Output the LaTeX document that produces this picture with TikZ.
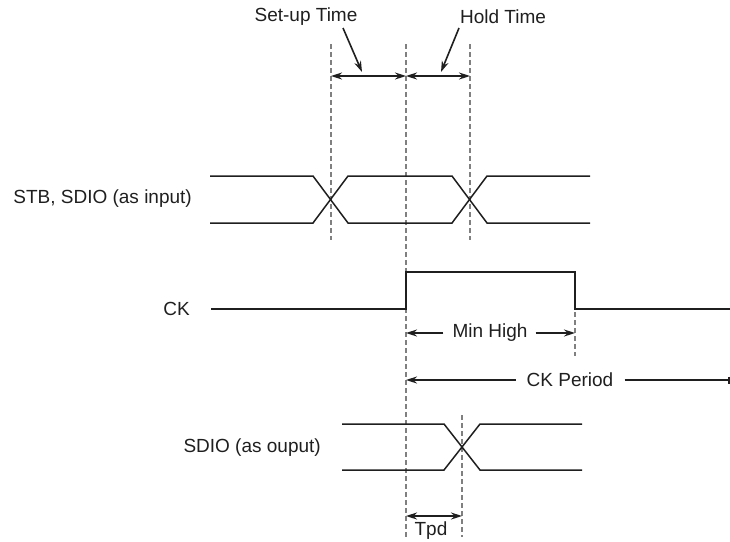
\documentclass[tikz,border=0pt]{standalone}
\usepackage{fontspec}
\setmainfont{Liberation Sans}
\usetikzlibrary{arrows.meta}
\begin{document}
\begin{tikzpicture}[x=1pt,y=-1pt,
  sig/.style={line width=1.5pt, draw=black!88, line join=miter},
  guide/.style={line width=1.3pt, draw=black!50, dash pattern=on 5pt off 3pt},
  dimboth/.style={line width=1.6pt, draw=black!88, {Stealth[length=11pt,width=7pt]}-{Stealth[length=11pt,width=7pt]}},
  dimone/.style={line width=1.6pt, draw=black!88, -{Stealth[length=11pt,width=7pt]}},
  dimbar/.style={line width=1.6pt, draw=black!88, -{Bar[width=7pt]}},
  lbl/.style={font=\fontsize{19}{23}\selectfont, inner sep=0pt, text=black!88},
]
\useasboundingbox (0,0) rectangle (730,541);

% guide coordinates
\coordinate (g1t) at (331,44);  \coordinate (g1b) at (331,240);
\coordinate (g2t) at (406,44);  \coordinate (g2b) at (406,537);
\coordinate (g3t) at (470,44);  \coordinate (g3b) at (470,240);
\coordinate (g4t) at (575,272); \coordinate (g4b) at (575,356);
\coordinate (g5t) at (462,415); \coordinate (g5b) at (462,537);

\draw[guide] (g1t) -- (g1b);
\draw[guide] (g2t) -- (g2b);
\draw[guide] (g3t) -- (g3b);
\draw[guide] (g4t) -- (g4b);
\draw[guide] (g5t) -- (g5b);

% labels
\node[lbl] (su) at (306,17) {Set-up Time};
\node[lbl] (ho) at (503,17) {Hold Time};
\node[lbl, anchor=east] (stb) at (192,199) {STB, SDIO (as input)};
\node[lbl, anchor=east] (ck) at (190,309) {CK};
\node[lbl, anchor=east] (sdo) at (321,448) {SDIO (as ouput)};
\node[lbl] (mh) at (490,333) {Min High};
\node[lbl] (cp) at (570,380) {CK Period};
\node[lbl] (tpd) at (431,531) {Tpd};

% STB, SDIO input waveform
\draw[sig] (210,176) -- (313,176) -- (348,223) -- (452,223) -- (487,176) -- (590,176);
\draw[sig] (210,223) -- (313,223) -- (348,176) -- (452,176) -- (487,223) -- (590,223);

% CK
\draw[sig] (211,309) -- (406,309) -- (406,272) -- (575,272) -- (575,309) -- (730,309);

% SDIO output
\draw[sig] (342,424) -- (444,424) -- (480,470) -- (582,470);
\draw[sig] (342,470) -- (444,470) -- (480,424) -- (582,424);

% setup / hold dimension
\coordinate (a1) at (331,76); \coordinate (a2) at (406,76); \coordinate (a3) at (470,76);
\draw[dimboth] (a1) -- (a2);
\draw[dimboth] (a2) -- (a3);
\coordinate (p1s) at (343,28); \coordinate (p1e) at (362,72);
\coordinate (p2s) at (459,28); \coordinate (p2e) at (441,72);
\draw[dimone] (p1s) -- (p1e);
\draw[dimone] (p2s) -- (p2e);

% Min High
\draw[dimone] ([xshift=-9pt]mh.west) -- (g2t |- mh);
\draw[dimone] ([xshift=8pt]mh.east) -- (g4t |- mh);

% CK Period
\coordinate (cpe) at (729.5,380);
\draw[dimone] ([xshift=-11pt]cp.west) -- (g2t |- cp);
\draw[dimbar] ([xshift=11pt]cp.east) -- (cpe);

% Tpd
\coordinate (t1) at (406,516); \coordinate (t2) at (462,516);
\draw[dimboth] (t1) -- (t2);
\end{tikzpicture}
\end{document}
